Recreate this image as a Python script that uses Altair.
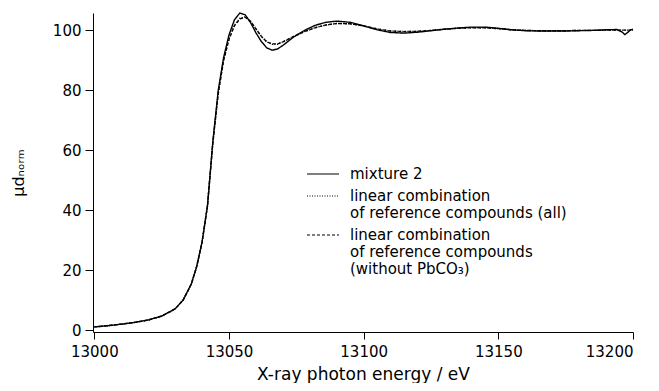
import altair as alt
import pandas as pd

energy = [13000, 13005, 13010, 13015, 13020, 13025, 13030, 13033, 13036, 13038,
          13040, 13042, 13044, 13046, 13048, 13050, 13052, 13054, 13056, 13058,
          13060, 13062, 13064, 13066, 13068, 13070, 13074, 13078, 13082, 13086,
          13090, 13095, 13100, 13105, 13110, 13115, 13120, 13125, 13130, 13135,
          13140, 13145, 13150, 13155, 13160, 13165, 13170, 13175, 13180, 13185,
          13190, 13194, 13196, 13197, 13198, 13199, 13200]

mixture = [1.2, 1.6, 2.1, 2.7, 3.5, 4.8, 7.2, 10.2, 15.5, 21.3,
           29.5, 41.5, 63.0, 80.0, 91.0, 98.5, 103.5, 105.8, 105.2, 102.6,
           99.2, 96.3, 94.2, 93.4, 93.8, 95.0, 97.8, 100.0, 101.7, 102.7,
           103.1, 102.7, 101.5, 100.2, 99.3, 99.1, 99.4, 99.9, 100.4, 100.8,
           101.1, 101.1, 100.7, 100.2, 99.9, 99.8, 99.8, 99.8, 99.9, 100.0,
           100.2, 100.3, 99.4, 98.6, 99.3, 100.1, 100.4]

lincomb_all = [1.2, 1.6, 2.1, 2.7, 3.5, 4.8, 7.2, 10.2, 15.5, 21.3,
               29.5, 41.5, 62.5, 79.0, 90.2, 97.2, 101.8, 104.0, 104.5, 103.1,
               100.6, 98.1, 96.2, 95.4, 95.4, 96.1, 97.9, 99.6, 100.9, 101.8,
               102.3, 102.2, 101.5, 100.5, 99.8, 99.6, 99.7, 100.0, 100.4, 100.7,
               100.9, 100.9, 100.6, 100.2, 100.0, 99.9, 99.9, 99.9, 100.0, 100.0,
               100.1, 100.1, 100.1, 100.1, 100.1, 100.1, 100.1]

lincomb_nopb = [1.2, 1.6, 2.1, 2.7, 3.5, 4.8, 7.2, 10.2, 15.5, 21.3,
                29.5, 41.5, 62.5, 79.0, 90.0, 97.0, 101.5, 103.8, 104.4, 103.0,
                100.5, 98.0, 96.2, 95.5, 95.5, 96.2, 98.0, 99.6, 100.9, 101.8,
                102.3, 102.2, 101.5, 100.5, 99.8, 99.6, 99.7, 100.0, 100.4, 100.7,
                100.9, 100.9, 100.6, 100.2, 100.0, 99.9, 99.9, 99.9, 100.0, 100.0,
                100.1, 100.1, 100.1, 100.1, 100.1, 100.1, 100.1]

series_names = [
    "mixture 2",
    "linear combination|of reference compounds (all)",
    "linear combination|of reference compounds|(without PbCO\u2083)",
]

rows = []
for name, vals in zip(series_names, [mixture, lincomb_all, lincomb_nopb]):
    for e, v in zip(energy, vals):
        rows.append({"energy": e, "mu": v, "series": name})
df = pd.DataFrame(rows)

FONT = "DejaVu Sans"

chart = alt.Chart(df).mark_line(strokeWidth=1.4, color="black").encode(
    x=alt.X("energy:Q",
            scale=alt.Scale(domain=[12999.5, 13200], nice=False, zero=False),
            axis=alt.Axis(title="X-ray photon energy / eV", values=[13000, 13050, 13100, 13150, 13200],
                          format="d", grid=False, tickSize=7, labelPadding=5,
                          titlePadding=7, titleFontSize=17, labelFontSize=15)),
    y=alt.Y("mu:Q",
            scale=alt.Scale(domain=[-0.5, 105.8], nice=False, zero=False),
            axis=alt.Axis(title="\u03bcd\u2099\u2092\u1d63\u2098", values=[0, 20, 40, 60, 80, 100],
                          grid=False, tickSize=8, labelPadding=4, titlePadding=26,
                          titleFontSize=16, labelFontSize=15)),
    strokeDash=alt.StrokeDash(
        "series:N",
        scale=alt.Scale(domain=series_names, range=[[1, 0], [1, 1.5], [3, 2]]),
        legend=alt.Legend(title=None, orient="none", legendX=213, legendY=152,
                          symbolType="M-1,0L3,0", symbolSize=256, symbolStrokeWidth=1.2,
                          symbolStrokeColor="black", labelFontSize=15, labelFont=FONT,
                          labelColor="black", labelExpr="split(datum.label, '|')",
                          labelLimit=400, rowPadding=5, labelOffset=26),
    ),
    order=alt.Order("energy:Q"),
).properties(
    width=540, height=319,
    padding={"left": 85, "top": 5, "right": 18, "bottom": 51},
    autosize=alt.AutoSizeParams(type="none"),
).configure_view(stroke=None).configure_axis(
    domainColor="black", tickColor="black", labelColor="black", titleColor="black",
    labelFont=FONT, titleFont=FONT, titleFontWeight="normal", domainWidth=1, tickWidth=1,
)

chart.save("out.html", embed_options={"renderer": "svg", "actions": False})
